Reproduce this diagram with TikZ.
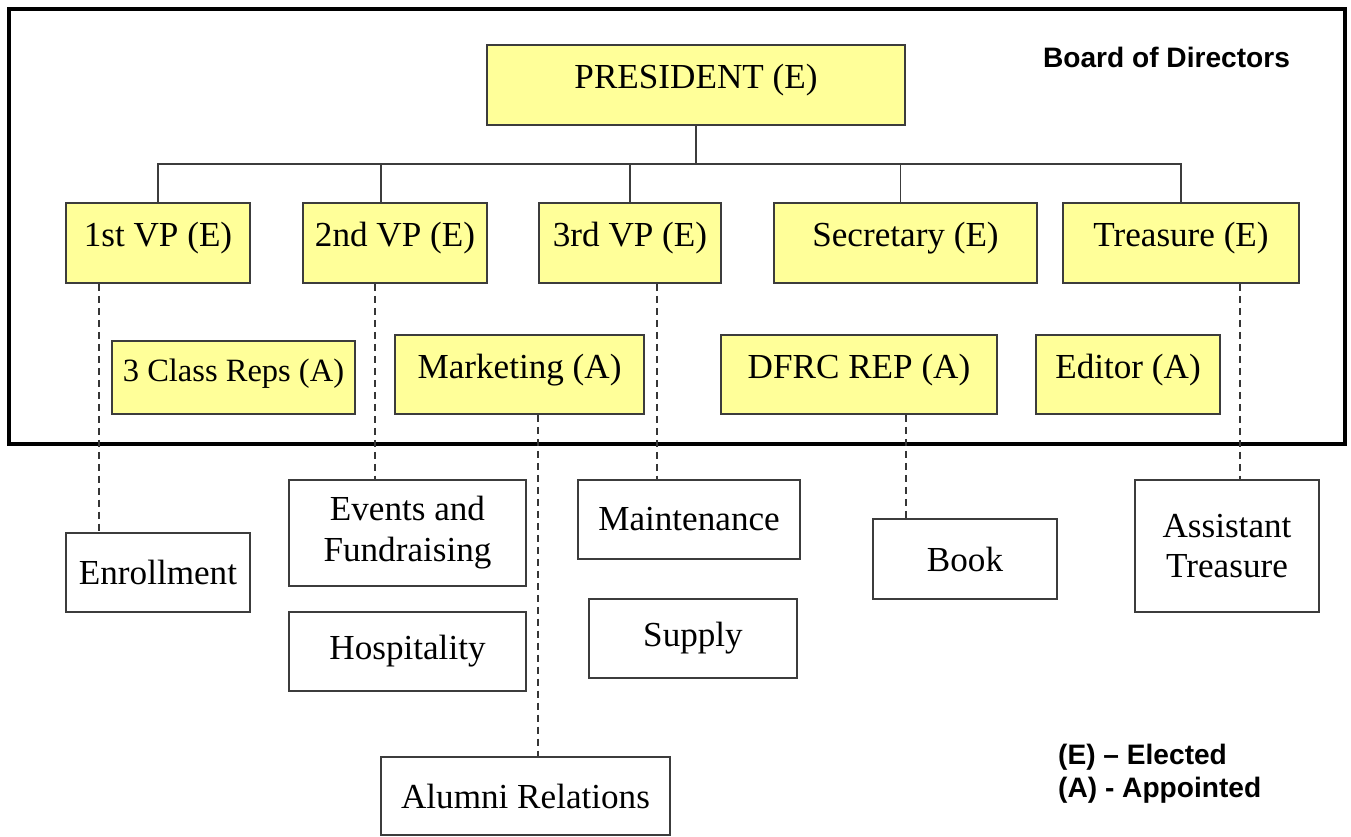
\documentclass[tikz,border=0pt]{standalone}
\usepackage{fontspec}
\setmainfont{Liberation Serif}
\newfontfamily\headfont{Liberation Sans}
\usetikzlibrary{arrows.meta,positioning}
\definecolor{boardyellow}{RGB}{255,255,153}
\definecolor{edgegray}{RGB}{60,60,60}

\tikzset{
  post/.style={draw=edgegray, line width=0.9pt, fill=boardyellow, inner sep=0pt,
    minimum width=#1, minimum height=1.6cm, text height=0.35cm, text depth=0.2cm,
    font=\fontsize{20}{23.3}\selectfont},
  appointed/.style={post=#1, minimum height=1.58cm},
  team/.style={draw=edgegray, line width=0.9pt, fill=white, inner sep=0pt,
    minimum width=#1, minimum height=1.58cm, align=center,
    font=\fontsize{20}{23.3}\selectfont},
  tie/.style={draw=edgegray, line width=0.8pt},
  dashlink/.style={draw=edgegray!90!black, line width=1.1pt, dash pattern=on 0.15cm off 0.09cm},
  heading/.style={font=\headfont\bfseries\fontsize{16}{19}\selectfont}
}

\begin{document}
\begin{tikzpicture}[>=Latex, x=0.02cm, y=-0.02cm]
      \useasboundingbox (0,0) rectangle (1351,836);
      \draw[line width=0.08cm] (9,9) rectangle (1345,444);
      \node[heading] (board) at (1166.5,57) {Board of Directors};

      \node[post=8.36cm] (pres) at (696,85) {PRESIDENT (E)};
      \node[post=3.68cm] (vpone) at (158,243) {1st VP (E)};
      \node[post=3.68cm] (vptwo) at (395,243) {2nd VP (E)};
      \node[post=3.64cm] (vpthree) at (630,243) {3rd VP (E)};
      \node[post=5.26cm] (secr) at (905.5,243) {Secretary (E)};
      \node[post=4.72cm] (treas) at (1181,243) {Treasure (E)};

      \node[appointed=4.86cm, minimum height=1.46cm, font=\fontsize{18.5}{22}\selectfont] (reps) at (233.5,377.5) {3 Class Reps (A)};
      \node[appointed=4.98cm] (mkt) at (519.5,374.5) {Marketing (A)};
      \node[appointed=5.52cm] (dfrc) at (859,374.5) {DFRC REP (A)};
      \node[appointed=3.68cm] (editor) at (1128,374.5) {Editor (A)};

      \node[team=3.68cm] (enroll) at (158,572.5) {Enrollment};
      \node[team=4.74cm, minimum height=2.12cm] (events) at (407.5,533) {Events and\\Fundraising};
      \node[team=4.74cm] (hosp) at (407.5,651.5) {Hospitality};
      \node[team=5.78cm, minimum height=1.56cm] (alumni) at (525.5,796) {Alumni Relations};
      \node[team=4.44cm] (maint) at (689,519.5) {Maintenance};
      \node[team=4.16cm] (supply) at (693,638.5) {Supply};
      \node[team=3.68cm, minimum height=1.6cm] (book) at (965,559) {Book};
      \node[team=3.68cm, minimum height=2.64cm] (asst) at (1227,546) {Assistant\\Treasure};

      \node[heading, anchor=west, align=left] (key) at (1052,774) {(E) \textendash{} Elected\\(A) - Appointed};

      \coordinate (bus) at (696,164);
      \draw[tie] (pres.south) -- (bus) -| (vpone.north);
      \draw[tie] (bus) -| ([xshift=-0.28cm]vptwo.north);
      \draw[tie] (bus) -| (vpthree.north);
      \draw[tie] (bus) -| ([xshift=-0.1cm]secr.north);
      \draw[tie] (bus) -| (treas.north);

      \foreach \from/\dx/\to in {vpone/-1.18/enroll, vptwo/-0.4/events, vpthree/0.54/maint,
                                mkt/0.37/alumni, dfrc/0.94/book, treas/1.18/asst} {
        \coordinate (drop) at ([xshift=\dx cm]\from.south);
        \draw[dashlink] (drop) -- (drop |- \to.north);
      }
    \end{tikzpicture}
\end{document}
